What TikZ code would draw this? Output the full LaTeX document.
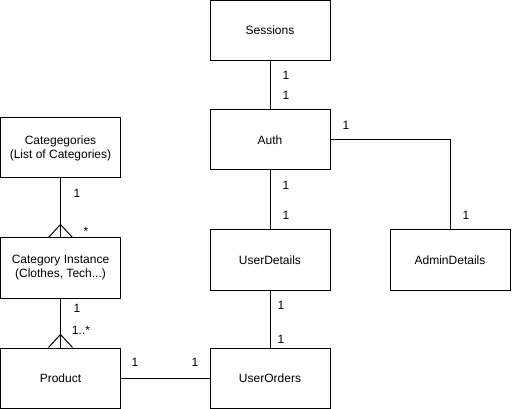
\documentclass[tikz,border=0pt]{standalone}
\usepackage{fontspec}
\setmainfont{Liberation Sans}
\usetikzlibrary{calc}
\begin{document}
\begin{tikzpicture}[x=1pt,y=-1pt,line width=1pt,
  ent/.style={draw,fill=white,minimum width=120pt,minimum height=60pt,inner sep=0pt,align=center,font=\fontsize{12}{14}\selectfont},
  lbl/.style={inner sep=0pt,font=\fontsize{12}{14}\selectfont}]
\useasboundingbox (0,0) rectangle (512,409);
\node[ent] (ses) at (270,30.5) {Sessions};
\node[ent] (auth) at (270,140) {Auth};
\node[ent] (ud) at (270,260) {UserDetails};
\node[ent] (ad) at (450,260) {AdminDetails};
\node[ent] (uo) at (270,378) {UserOrders};
\node[ent] (cat) at (60.5,148) {Categegories\\(List of Categories)};
\node[ent] (ci) at (60.5,268) {Category Instance\\(Clothes, Tech...)};
\node[ent] (prod) at (60.5,378) {Product};
\draw (ses) -- (auth);
\draw (auth) -- (ud);
\draw (ud) -- (uo);
\draw (prod) -- (uo);
\draw (auth.east) -| (ad.north);
\draw (cat) -- (ci);
\draw (ci) -- (prod);
\coordinate (cf1) at ($(ci.north)+(0,-13)$);
\draw ($(ci.north)+(-12,0)$) -- (cf1) -- ($(ci.north)+(12,0)$);
\coordinate (cf2) at ($(prod.north)+(0,-13)$);
\draw ($(prod.north)+(-12,0)$) -- (cf2) -- ($(prod.north)+(12,0)$);
\node[lbl] (l1) at (286,75) {1};
\node[lbl] (l2) at (286,95) {1};
\node[lbl] (l3) at (286,185) {1};
\node[lbl] (l4) at (286,215) {1};
\node[lbl] (l5) at (346,125) {1};
\node[lbl] (l6) at (466,215) {1};
\node[lbl] (l7) at (281,305) {1};
\node[lbl] (l8) at (281,339) {1};
\node[lbl] (l9) at (135,362) {1};
\node[lbl] (l10) at (195,362) {1};
\node[lbl] (l11) at (77,193) {1};
\node[lbl] (l12) at (86,231) {*};
\node[lbl] (l13) at (77,308) {1};
\node[lbl] (l14) at (81,330) {1..*};
\end{tikzpicture}
\end{document}
